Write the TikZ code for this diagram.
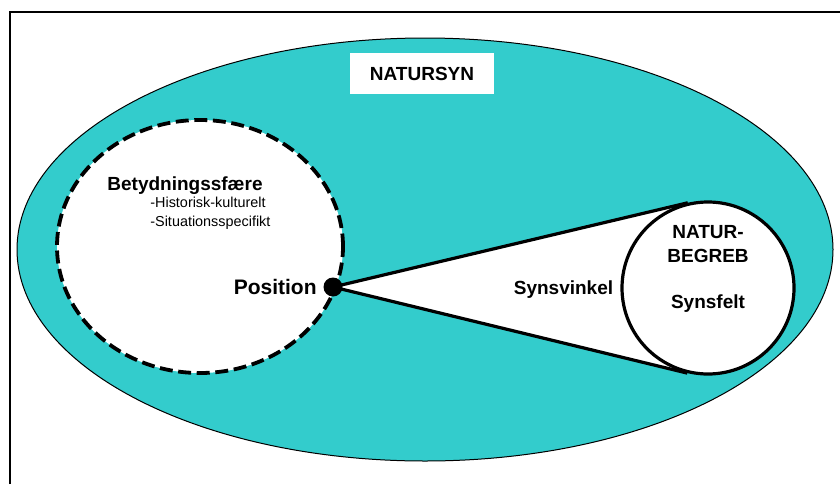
\documentclass[tikz,border=0pt]{standalone}
\usepackage{fontspec}
\setmainfont{Liberation Sans}
\usetikzlibrary{
  calc,
  backgrounds,
  positioning,
  shapes
}
\definecolor{synteal}{RGB}{51,204,204}

\begin{document}
\begin{tikzpicture}[x=0.5pt,y=0.5pt,
    big/.style={font=\fontsize{9.5}{11}\selectfont\bfseries,inner sep=0pt},
    small/.style={font=\fontsize{7.2}{9}\selectfont,inner sep=0pt},
    kant/.style={line width=1.6pt},
    titelbox/.style={fill=white,minimum width=72pt,minimum height=20.5pt,inner sep=0pt}]
      \useasboundingbox (0,0) rectangle (840,484);
      \draw[line width=0.8pt] (10,0) -- (10,472) -- (840,472);

      % betydningssfaere (stiplet)
      \node[ellipse,draw,line width=1.9pt,dash pattern=on 6.5pt off 2.8pt,fill=white,
        minimum width=143pt,minimum height=126.5pt,inner sep=0pt] (sfaere) at (200,237.5) {};
      \node[titelbox,big] (titel) at (422,410.5) {NATURSYN};

      \node[circle,draw,kant,fill=white,minimum size=86pt,inner sep=0pt] (begreb) at (708,196) {};
      \node[circle,fill=black,minimum size=9.5pt,inner sep=0pt] (pos) at (333,197) {};

      \coordinate (t1) at (tangent cs:node=begreb,point={(pos.center)},solution=1);
      \coordinate (t2) at (tangent cs:node=begreb,point={(pos.center)},solution=2);
      \draw[kant] (pos.center) -- (t1);
      \draw[kant] (pos.center) -- (t2);

      \begin{scope}[on background layer]
        \node[ellipse,draw,line width=0.5pt,fill=synteal,
          minimum width=408pt,minimum height=211.5pt,inner sep=0pt] (natursyn) at (425,234.5) {};
        \fill[white] (pos.center) -- (t1) -- (begreb.center) -- (t2) -- cycle;
      \end{scope}

      \node[big,anchor=base west] (betyd) at (107,294) {Betydningssfære};
      \node[small,anchor=base west] (hist) at (150,277) {-Historisk-kulturelt};
      \node[small,anchor=base west] (sit) at ($(hist.base west)+(0,-19)$) {-Situationsspecifikt};
      \node[font=\fontsize{10.5}{12}\selectfont\bfseries,inner sep=0pt,anchor=base east] (poslabel) at (317,190) {Position};
      \node[big,anchor=base] (vinkel) at (563.5,190) {Synsvinkel};
      \node[big,anchor=base] (natur) at (708,246) {NATUR-};
      \node[big,anchor=base] (begrebtxt) at (708,222) {BEGREB};
      \node[big,anchor=base] (synsfelt) at (708,176) {Synsfelt};
\end{tikzpicture}
\end{document}
